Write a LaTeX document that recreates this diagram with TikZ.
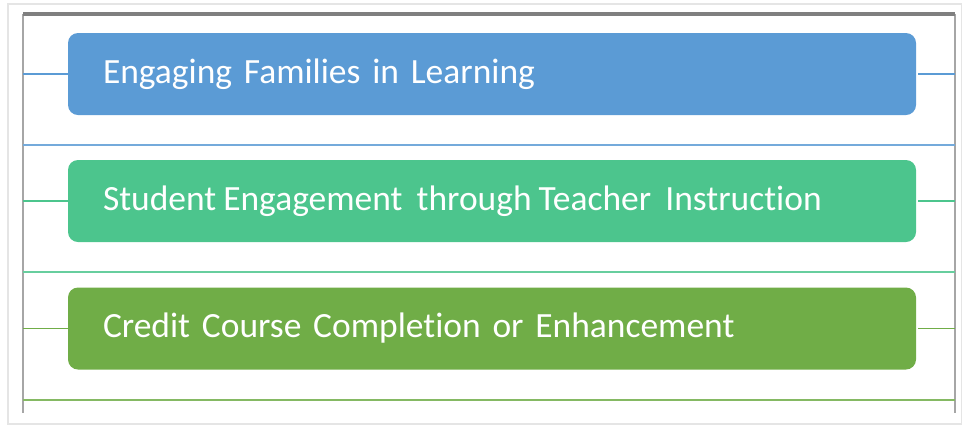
\documentclass[tikz,border=0pt]{standalone}
\usepackage{fontspec}
\setsansfont[RawFeature=-liga]{Carlito}
\usetikzlibrary{positioning}
\definecolor{famblue}{HTML}{5B9BD5}
\definecolor{stuteal}{HTML}{4CC58D}
\definecolor{credgreen}{HTML}{70AD47}
\definecolor{framegray}{HTML}{7F7F7F}

\begin{document}
\begin{tikzpicture}[x=0.75pt,y=-0.75pt,every node/.style={outer sep=0pt},
 area/.style={rounded corners=7.5pt,minimum width=636pt,minimum height=61.5pt,
  inner xsep=26.25pt,text width=583.5pt,align=left,text=white,anchor=west,
  font=\sffamily\fontsize{26.6}{30}\selectfont},
 link/.style={line width=1pt},
 rule/.style={line width=1.2pt}]

  \useasboundingbox (0,0) rectangle (962,426);
  \draw[gray!20,line width=0.8pt] (8,4) rectangle (961.5,424);
  \draw[gray!20,line width=2.2pt] (8,4) -- (8,424);

  \coordinate (tl) at (23,14);
  \coordinate (tr) at (955,14);
  \coordinate (bl) at (23,413);
  \coordinate (br) at (955,413);
  \draw[gray!70,line width=1pt] (tl) -- (bl) (tr) -- (br);
  \draw[framegray,line width=2.4pt] (tl) -- (tr);

  \foreach \X/\C/\Y/\S/\T in {1/famblue/74/145/{Engaging Families in Learning},
   2/stuteal/201/272/{\spaceskip=0.2em plus 0.1em Student Engagement\hspace{0.2em} through Teacher\hspace{0.2em} Instruction},
   3/credgreen/328.5/400/{Credit Course Completion or Enhancement}}
  {\node[area,fill=\C] (b\X) at (68,\Y) {\T};
   \draw[link,\C] (b\X.west) -- (b\X.west -| tl);
   \draw[link,\C] ([xshift=1.5pt]b\X.east) -- (b\X.east -| tr);
   \coordinate (s\X) at (23,\S);
   \draw[rule,\C!85] (s\X) -- (s\X -| tr);
  }

\end{tikzpicture}
\end{document}
